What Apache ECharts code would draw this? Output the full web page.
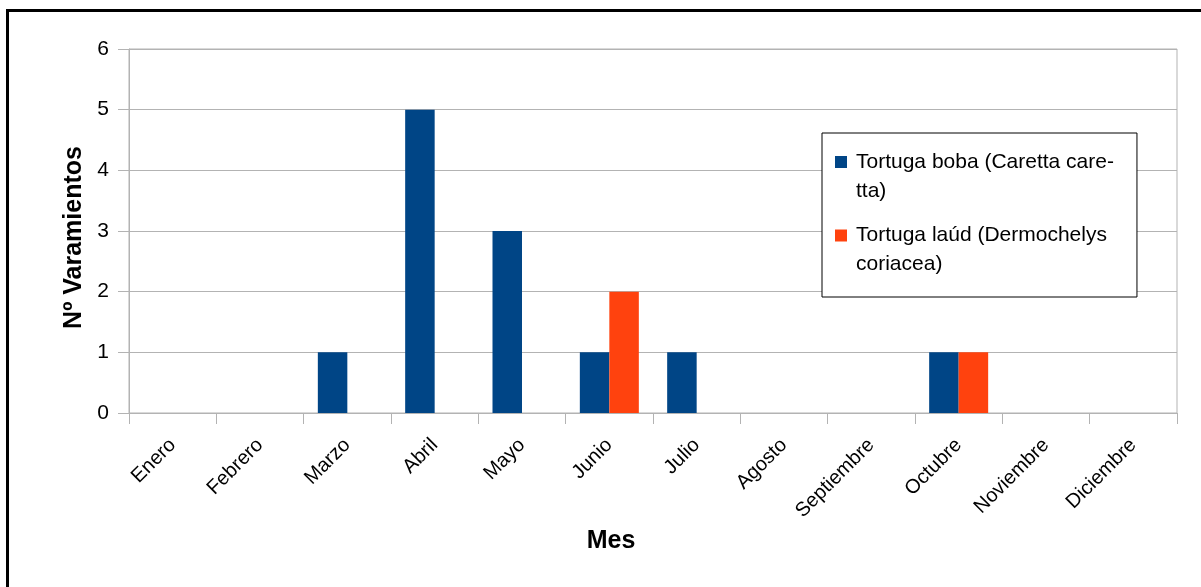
<!DOCTYPE html>
<html>
<head>
<meta charset="utf-8">
<script src="https://cdn.jsdelivr.net/npm/echarts@6/dist/echarts.min.js"></script>
<style>
  html, body { margin: 0; padding: 0; background: #fff; }
  #chart { width: 1201px; height: 587px; }
</style>
</head>
<body>
<div id="chart"></div>
<script>
// Monthly strandings by species
const months = ['Enero', 'Febrero', 'Marzo', 'Abril', 'Mayo', 'Junio', 'Julio',
  'Agosto', 'Septiembre', 'Octubre', 'Noviembre', 'Diciembre'];
const bobaCounts = [0, 0, 1, 5, 3, 1, 1, 0, 0, 1, 0, 0];
const laudCounts = [0, 0, 0, 0, 0, 2, 0, 0, 0, 1, 0, 0];
const seriesNames = ['Tortuga boba (Caretta caretta)', 'Tortuga laúd (Dermochelys coriacea)'];
const legendLines = {
  'Tortuga boba (Caretta caretta)': ['Tortuga boba (Caretta care-', 'tta)'],
  'Tortuga laúd (Dermochelys coriacea)': ['Tortuga laúd (Dermochelys', 'coriacea)']
};
const yTicks = { min: 0, max: 6, step: 1 };

const FONT = '"Liberation Sans", Arial, sans-serif';
const GRID_GRAY = '#b3b3b3';

// Legend swatch: a 12px square sitting beside the first of two 29px text lines.
// The two leading move-to points stretch the icon box to the full 16x58 item,
// leaving a little extra room between the square and its text.
const LEGEND_ICON = 'path://M0,0 M16,58 M0,8.5 L12,8.5 L12,20.5 L0,20.5 Z';

const chart = echarts.init(document.getElementById('chart'), null, { renderer: 'canvas' });

chart.setOption({
  backgroundColor: '#ffffff',
  animation: false,
  textStyle: { fontFamily: FONT, color: '#000' },
  grid: {
    left: 129, right: 24, top: 49, bottom: 174,
    show: true, borderColor: GRID_GRAY, borderWidth: 1, backgroundColor: 'transparent'
  },
  legend: {
    orient: 'vertical',
    left: 822, top: 133,
    padding: [14.5, 23, 18, 13],
    itemWidth: 16, itemHeight: 58, itemGap: 15.5,
    icon: LEGEND_ICON,
    borderColor: '#000', borderWidth: 1, backgroundColor: '#fff',
    selectedMode: false,
    data: seriesNames,
    formatter: name => legendLines[name].join('\n'),
    textStyle: {
      fontFamily: FONT, fontSize: 21, color: '#000', lineHeight: 29
    }
  },
  xAxis: {
    type: 'category',
    data: months,
    boundaryGap: true,
    name: 'Mes',
    nameLocation: 'middle',
    nameGap: 106,
    nameTextStyle: { fontFamily: FONT, fontSize: 25, fontWeight: 'bold', color: '#000', padding: [0, 84, 0, 0] },
    axisLine: { show: true, lineStyle: { color: GRID_GRAY, width: 1 } },
    axisTick: { show: true, length: 11, interval: 0, lineStyle: { color: GRID_GRAY } },
    axisLabel: { interval: 0, rotate: 45, margin: 29, fontSize: 20, color: '#000', fontFamily: FONT },
    splitLine: { show: false }
  },
  yAxis: {
    type: 'value',
    min: yTicks.min, max: yTicks.max, interval: yTicks.step,
    name: 'Nº Varamientos',
    nameLocation: 'middle',
    nameGap: 42,
    nameTextStyle: { fontFamily: FONT, fontSize: 25, fontWeight: 'bold', color: '#000', padding: [0, 13, 0, 0] },
    axisLine: { show: true, lineStyle: { color: GRID_GRAY, width: 1 } },
    axisTick: { show: true, length: 11, lineStyle: { color: GRID_GRAY } },
    axisLabel: { margin: 20, fontSize: 21, color: '#000', fontFamily: FONT },
    splitLine: { show: true, lineStyle: { color: GRID_GRAY, width: 1 } }
  },
  series: [
    {
      name: seriesNames[0], type: 'bar', data: bobaCounts,
      barWidth: 29.5, barGap: '0%',
      itemStyle: { color: '#004586' }
    },
    {
      name: seriesNames[1], type: 'bar', data: laudCounts,
      barWidth: 29.5, barGap: '0%',
      itemStyle: { color: '#ff420e' }
    }
  ],
  graphic: [
    {
      type: 'rect', silent: true, z: 100,
      shape: { x: 7.5, y: 10.5, width: 1300, height: 700 },
      style: { fill: 'none', stroke: '#000', lineWidth: 3 }
    }
  ]
});
</script>
</body>
</html>
